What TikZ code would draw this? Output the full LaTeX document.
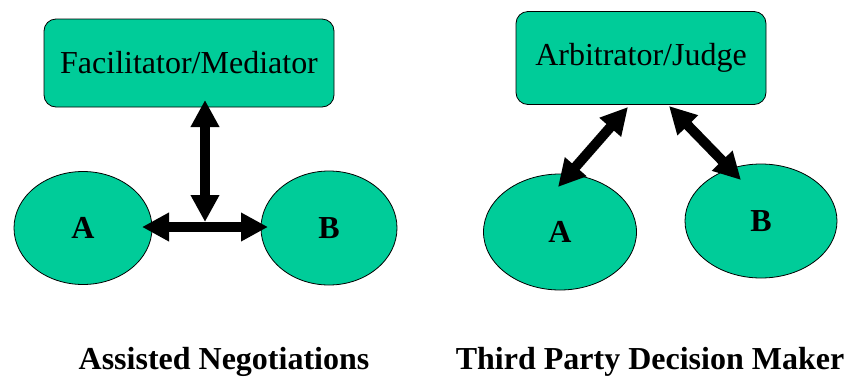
\documentclass[tikz,border=0pt]{standalone}
\usepackage{fontspec}
\setmainfont{Liberation Serif}
\usepackage{tikz}
\usetikzlibrary{arrows.meta, positioning, shapes.geometric}
\definecolor{boxgreen}{HTML}{00CC99}

\begin{document}
\begin{tikzpicture}[x=0.5pt, y=-0.5pt,
  rolebox/.style={draw, rounded corners=6pt, fill=boxgreen, font=\fontsize{16}{19}\selectfont, inner sep=0pt},
  party/.style={draw, ellipse, fill=boxgreen, inner sep=0pt, font=\fontsize{16}{19}\selectfont\bfseries},
  dblarrow/.style={{Triangle[length=13.5pt, width=13.5pt]}-{Triangle[length=13.5pt, width=13.5pt]}, line width=5pt},
  caption/.style={font=\fontsize{16}{19}\selectfont\bfseries}]
  \useasboundingbox (0,0) rectangle (853,381);
  % assisted negotiations
  \node[rolebox, minimum width=145pt, minimum height=44pt] (fac) at (189,63) {Facilitator/Mediator};
  \node[party, minimum width=69pt, minimum height=56.5pt] (la) at (83,228) {A};
  \node[party, minimum width=68pt, minimum height=57pt] (lb) at (329,228) {B};
  \coordinate (ftop) at (205,100);
  \coordinate (junc) at (205,222);
  \coordinate (lend) at (142,227);
  \coordinate (rend) at (268,227);
  \draw[dblarrow] (ftop) -- (junc);
  \draw[dblarrow] (lend) -- (rend);
  \node[caption] (capl) at (224,362) {Assisted Negotiations};
  % third party decision maker
  \node[rolebox, minimum width=125pt, minimum height=46.5pt] (arb) at (641,58) {Arbitrator/Judge};
  \node[party, minimum width=76.5pt, minimum height=58pt] (ra) at (560,232) {A};
  \node[party, minimum width=76pt, minimum height=57pt] (rb) at (761,221) {B};
  \coordinate (arbl) at (628,107);
  \coordinate (arbr) at (669,106);
  \coordinate (ratip) at (558,187);
  \coordinate (rbtip) at (741,180);
  \draw[dblarrow] (arbl) -- (ratip);
  \draw[dblarrow] (arbr) -- (rbtip);
  \node[caption] (capr) at (650,362) {Third Party Decision Maker};
\end{tikzpicture}
\end{document}
